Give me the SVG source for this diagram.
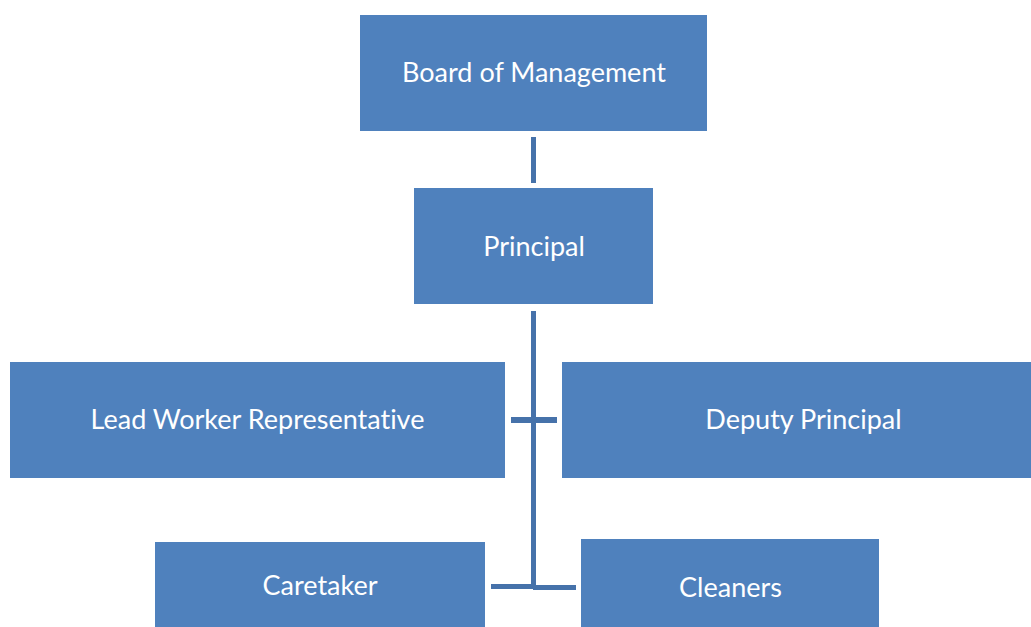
<svg xmlns="http://www.w3.org/2000/svg" width="1031" height="627" viewBox="0 0 1031 627">
<style>
.box{fill:#4F81BD}
.lbl{font-family:Lato,"Liberation Sans",sans-serif;font-size:27px;fill:#FFFFFF;text-anchor:middle;font-variant-ligatures:none}
.con{fill:#4672AA}
</style>
<rect width="1031" height="627" fill="#FFFFFF"/>
<g id="connectors">
<rect class="con" x="531" y="137" width="5" height="46"/>
<rect class="con" x="531" y="311" width="5" height="278"/>
<rect class="con" x="511" y="417" width="46" height="6"/>
<rect class="con" x="491" y="584" width="44" height="5"/>
<rect class="con" x="533" y="585" width="43" height="5"/>
</g>
<g id="board"><rect class="box" x="360" y="15" width="347" height="116"/><text class="lbl" x="534" y="82">Board of Management</text></g>
<g id="principal"><rect class="box" x="414" y="188" width="239" height="116"/><text class="lbl" x="534" y="256">Principal</text></g>
<g id="lead"><rect class="box" x="10" y="362" width="495" height="116"/><text class="lbl" x="257.5" y="429">Lead Worker Representative</text></g>
<g id="deputy"><rect class="box" x="562" y="362" width="469" height="116"/><text class="lbl" x="803.5" y="429">Deputy Principal</text></g>
<g id="caretaker"><rect class="box" x="155" y="542" width="330" height="85"/><text class="lbl" x="320" y="595">Caretaker</text></g>
<g id="cleaners"><rect class="box" x="581" y="539" width="298" height="88"/><text class="lbl" x="730.5" y="597">Cleaners</text></g>
</svg>
